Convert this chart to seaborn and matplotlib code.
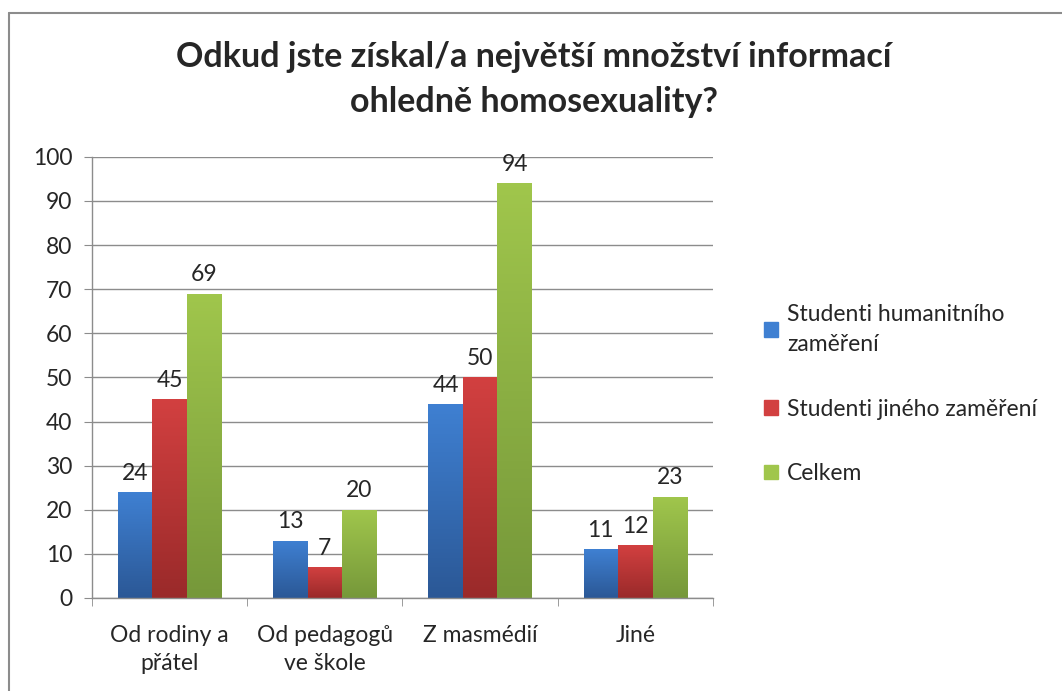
import numpy as np
import pandas as pd
import matplotlib
matplotlib.use("Agg")
import matplotlib.pyplot as plt
from matplotlib.lines import Line2D
from matplotlib.colors import LinearSegmentedColormap
import seaborn as sns

# data
kategorie = ["Od rodiny a\npřátel", "Od pedagogů\nve škole", "Z masmédií", "Jiné"]
serie = ["Studenti humanitního\nzaměření", "Studenti jiného zaměření", "Celkem"]
humanitni = [24, 13, 44, 11]
jine_zamereni = [45, 7, 50, 12]
celkem = [69, 20, 94, 23]

df = pd.DataFrame({
    "kategorie": kategorie * 3,
    "serie": [serie[0]] * 4 + [serie[1]] * 4 + [serie[2]] * 4,
    "hodnota": humanitni + jine_zamereni + celkem,
})

# barvy: (nahoře, dole) pro přechod jako v Excelu
barvy = [("#3f80d2", "#2b5896"), ("#d24040", "#9a2a2a"), ("#a0c64c", "#76983a")]

sns.set_style("white")
plt.rcParams["font.family"] = ["Lato", "DejaVu Sans"]

fig = plt.figure(figsize=(10.62, 6.91), dpi=100)
ax = fig.add_axes([0.0866, 0.1346, 0.5847, 0.6384])

sns.barplot(data=df, x="kategorie", y="hodnota", hue="serie", hue_order=serie,
            palette=[b[0] for b in barvy], width=0.667, ax=ax, legend=False,
            saturation=1, linewidth=0)

# přechod barvy v každém sloupci
for cont, (top, bot) in zip(ax.containers, barvy):
    cmap = LinearSegmentedColormap.from_list("g", [bot, top])
    for p in cont.patches:
        x0, y0 = p.get_x(), p.get_y()
        w, h = p.get_width(), p.get_height()
        grad = np.linspace(0, 1, 100).reshape(-1, 1)
        im = ax.imshow(grad, cmap=cmap, origin="lower", aspect="auto",
                       extent=[x0, x0 + w, y0, y0 + h], zorder=p.get_zorder())
        im.set_clip_path(p)
    ax.bar_label(cont, padding=6, fontsize=16.5)

ax.set_xlim(-0.5, 3.5)
ax.set_ylim(0, 100)
ax.set_yticks(range(0, 101, 10))
ax.set_xlabel("")
ax.set_ylabel("")
ax.grid(axis="y", color="#8c8c8c", linewidth=1)
ax.set_axisbelow(True)
for s in ["top", "right"]:
    ax.spines[s].set_visible(False)
for s in ["left", "bottom"]:
    ax.spines[s].set_color("#8c8c8c")
    ax.spines[s].set_linewidth(1)

ax.tick_params(axis="y", left=True, length=6, color="#8c8c8c", labelsize=16.5, pad=8)
ax.set_xticks([0, 1, 2, 3])
ax.set_xticklabels(kategorie, fontsize=16.5, linespacing=1.4)
ax.tick_params(axis="x", bottom=False, pad=16)
# značky mezi kategoriemi
ax.set_xticks([-0.5, 0.5, 1.5, 2.5, 3.5], minor=True)
ax.tick_params(axis="x", which="minor", bottom=True, length=6, color="#8c8c8c")

fig.suptitle("Odkud jste získal/a největší množství informací\nohledně homosexuality?",
             x=0.503, y=0.94, fontsize=24.5, fontweight="bold", linespacing=1.5)

handles = [plt.Rectangle((0, 0), 1, 1, color=b[0]) for b in barvy]
leg = fig.legend(handles, serie, loc="center left", bbox_to_anchor=(0.700, 0.43),
                 frameon=False, fontsize=16.5, handlelength=0.6, handleheight=0.6,
                 handletextpad=0.4, labelspacing=1.9)
leg.get_texts()[0].set_linespacing(1.55)

# rámeček grafu
fig.add_artist(Line2D([9 / 1062, 9 / 1062], [0, 1 - 13 / 691], color="#8c8c8c", lw=1.5))
fig.add_artist(Line2D([9 / 1062, 1], [1 - 13 / 691, 1 - 13 / 691], color="#8c8c8c", lw=1.5))

fig.savefig("out.png", dpi=100)
